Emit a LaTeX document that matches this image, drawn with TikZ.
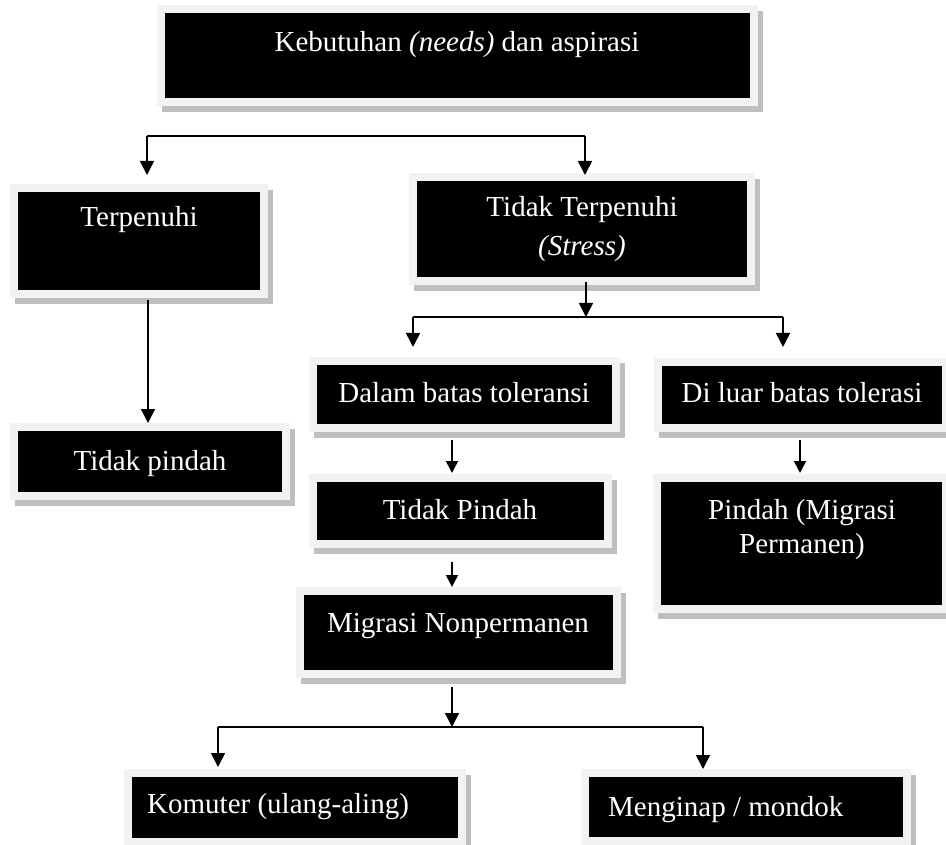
\documentclass[tikz,border=0pt]{standalone}
\usepackage{fontspec}
\setmainfont{Liberation Serif}
\usetikzlibrary{arrows.meta,calc}
\definecolor{framec}{HTML}{F2F2F2}
\definecolor{shadowc}{HTML}{BFBFBF}
\tikzset{
  blackbox/.style={fill=black, draw=none, inner sep=0pt, outer sep=0pt, rectangle},
  txt/.style={text=white, anchor=mid, inner sep=0pt, yshift=-7pt, font=\fontsize{29}{34}\selectfont},
  txtl/.style={txt, anchor=mid west},
  conn/.style={line width=1.6pt, draw=black},
  arr/.style={conn, -{Triangle[length=14pt,width=14pt]}},
  arrs/.style={conn, -{Triangle[length=12pt,width=12pt]}}
}
\newcommand\mkbox[5]{%
  \fill[shadowc] (#2-8+5,#3-8+6) rectangle (#4+8+5,#5+8+6);
  \fill[framec] (#2-8,#3-8) rectangle (#4+8,#5+8);
  \node[blackbox, minimum width=#4-#2, minimum height=#5-#3] (#1) at ({(#2+#4)/2},{(#3+#5)/2}) {};
}
\begin{document}
\begin{tikzpicture}[x=1pt,y=-1pt]
\useasboundingbox (0,0) rectangle (946,845);
\fill[white] (0,0) rectangle (946,845);

% boxes
\mkbox{top}{165}{13}{750}{98}
\mkbox{terp}{18}{192}{260}{290}
\mkbox{tt}{417}{181}{747}{277}
\mkbox{tpk}{18}{431}{282}{492}
\mkbox{dalam}{317}{365}{612}{424}
\mkbox{diluar}{662}{366}{942}{424}
\mkbox{tpP}{317}{482}{604}{540}
\mkbox{pindah}{661}{482}{942}{605}
\mkbox{migrasi}{304}{595}{613}{670}
\mkbox{komuter}{132}{777}{458}{838}
\mkbox{menginap}{589}{777}{903}{837}

% texts
\node[txt] (top-t) at (457,42) {Kebutuhan \textit{(needs)} dan aspirasi};
\node[txt] (terp-t) at (139,217) {Terpenuhi};
\node[txt] (tt-t1) at (582,207) {Tidak Terpenuhi};
\node[txt] (tt-t2) at (582,246) {\textit{(Stress)}};
\node[txt] (tpk-t) at (150,461) {Tidak pindah};
\node[txt] (dalam-t) at (464,393) {Dalam batas toleransi};
\node[txt] (diluar-t) at (802,393) {Di luar batas tolerasi};
\node[txt] (tpP-t) at (460,510) {Tidak Pindah};
\node[txt] (pindah-t1) at (802,510) {Pindah (Migrasi};
\node[txt] (pindah-t2) at (802,544) {Permanen)};
\node[txt] (migrasi-t) at (458,623) {Migrasi Nonpermanen};
\node[txtl] (komuter-t) at (147,804) {Komuter (ulang-aling)};
\node[txtl] (menginap-t) at (608,807) {Menginap / mondok};

% junction points
\coordinate (s1L) at (147,136);
\coordinate (s1R) at (585,136);
\coordinate (s2M) at (586,317);
\coordinate (s2L) at (413,317);
\coordinate (s2R) at (783,317);
\coordinate (s3M) at (452,727);
\coordinate (s3L) at (218,727);
\coordinate (s3R) at (703,727);

% level 1
\draw[conn] (s1L) -- (s1R);
\draw[arr, shorten >=17pt] (s1L) -- (s1L |- terp.north);
\draw[arr, shorten >=6pt] (s1R) -- (s1R |- tt.north);

% Terpenuhi -> Tidak pindah
\draw[arr, shorten <=10pt, shorten >=8pt] (terp.south -| 148,0) -- (tpk.north -| 148,0);

% Tidak Terpenuhi -> split
\draw[arr, shorten <=5pt] (s2M |- tt.south) -- (s2M);
\draw[conn] (s2L) -- (s2R);
\draw[arr, shorten >=18pt] (s2L) -- (s2L |- dalam.north);
\draw[arr, shorten >=19pt] (s2R) -- (s2R |- diluar.north);

% right branch
\draw[arrs, shorten <=16pt, shorten >=9pt] (diluar.south -| 800,0) -- (pindah.north -| 800,0);

% middle branch
\draw[arrs, shorten <=16pt, shorten >=9pt] (dalam.south -| 452,0) -- (tpP.north -| 452,0);
\draw[arrs, shorten <=22pt, shorten >=8pt] (tpP.south -| 452,0) -- (migrasi.north -| 452,0);
\draw[arr, shorten <=17pt] (migrasi.south -| s3M) -- (s3M);
\draw[conn] (s3L) -- (s3R);
\draw[arr, shorten >=10pt] (s3L) -- (s3L |- komuter.north);
\draw[arr, shorten >=8pt] (s3R) -- (s3R |- menginap.north);
\end{tikzpicture}
\end{document}
